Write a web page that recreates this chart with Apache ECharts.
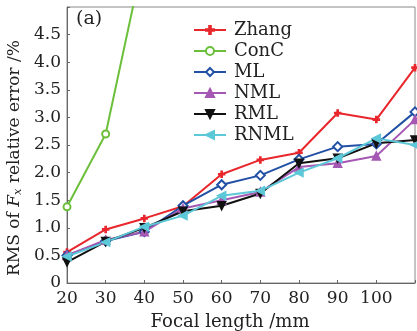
<!DOCTYPE html>
<html><head><meta charset="utf-8">
<script src="https://cdn.jsdelivr.net/npm/echarts@6/dist/echarts.min.js"></script>
<style>html,body{margin:0;padding:0;background:#fff}#c{width:417px;height:331px}</style>
</head><body><div id="c"></div>
<script>
const focal = [20, 30, 40, 50, 60, 70, 80, 90, 100, 110];
const zhang = [0.56, 0.97, 1.17, 1.39, 1.97, 2.23, 2.36, 3.08, 2.96, 3.90];
const conc  = [1.38, 2.70, 5.96, null, null, null, null, null, null, null];
const ml    = [0.50, 0.76, 0.93, 1.40, 1.78, 1.95, 2.24, 2.47, 2.52, 3.10];
const nml   = [0.50, 0.78, 0.93, 1.35, 1.50, 1.65, 2.10, 2.17, 2.30, 2.96];
const rml   = [0.38, 0.75, 1.00, 1.30, 1.40, 1.62, 2.17, 2.26, 2.53, 2.59];
const rnml  = [0.48, 0.74, 1.02, 1.22, 1.58, 1.67, 2.00, 2.26, 2.62, 2.50];
const yTicks = [0, 0.5, 1.0, 1.5, 2.0, 2.5, 3.0, 3.5, 4.0, 4.5];

const FONT = 'DejaVu Serif';
const chart = echarts.init(document.getElementById('c'));
function pts(arr){ return focal.map((f,i)=>[f, arr[i]]); }
function s(name, data, color, symbol, size){
  return {
    name, type:'line', data: pts(data), symbol, symbolSize:size,
    lineStyle:{color, width:2}, itemStyle:{color, borderColor:color, borderWidth:1.5},
    showAllSymbol:true, clip:true, connectNulls:false
  };
}
chart.setOption({
  animation:false,
  textStyle:{fontFamily:FONT},
  grid:{left:67, right:2, top:7, bottom:48, show:true, borderColor:'#888', borderWidth:1,
        containLabel:false, outerBoundsMode:'none'},
  title:{text:'(a)', left:71, top:5, textStyle:{fontFamily:FONT, fontSize:19, fontWeight:'normal', color:'#222'}},
  legend:{
    orient:'vertical', left:193, top:21, padding:0, itemWidth:32, itemHeight:10, itemGap:3,
    textStyle:{fontFamily:FONT, fontSize:18, color:'#222', padding:[0,0,0,3], lineHeight:18},
    data:['Zhang','ConC','ML','NML','RML','RNML']
  },
  graphic:[{
    type:'text', x:15, y:158, rotation:Math.PI/2,
    style:{
      text:'{n|RMS of }{f|F}{s|x}{n| relative error /%}',
      align:'center', verticalAlign:'middle', fill:'#222',
      font:'17px "DejaVu Serif"',
      rich:{
        n:{fontFamily:FONT, fontSize:17, fill:'#222'},
        f:{fontFamily:FONT, fontSize:17, fontStyle:'italic', fill:'#222'},
        s:{fontFamily:FONT, fontSize:11.5, fontStyle:'italic', fill:'#222', verticalAlign:'bottom', padding:[7,0,0,0]}
      }
    }
  }],
  xAxis:{
    type:'value', min:20, max:110, interval:10,
    name:'Focal length /mm', nameLocation:'middle', nameGap:30,
    nameTextStyle:{fontFamily:FONT, fontSize:18, color:'#222', padding:[0,22,0,0]},
    axisLine:{lineStyle:{color:'#666'}},
    axisTick:{inside:true, length:3, lineStyle:{color:'#666'}},
    splitLine:{show:false},
    axisLabel:{fontFamily:FONT, fontSize:17, color:'#222', margin:7,
      formatter:v=> v===110 ? '' : String(v)}
  },
  yAxis:{
    type:'value', min:0, max:5, interval:0.5,
    axisLine:{show:true, lineStyle:{color:'#666'}},
    axisTick:{inside:true, length:3, lineStyle:{color:'#666'}},
    splitLine:{show:false},
    axisLabel:{fontFamily:FONT, fontSize:17, color:'#222', margin:6,
      formatter:v=> yTicks.indexOf(v)<0 ? '' : (v===0 ? '0' : v.toFixed(1))}
  },
  series:[
    s('Zhang', zhang, '#e8262b', 'path://M4,0h2v4h4v2h-4v4h-2v-4h-4v-2h4z', 6),
    s('ConC', conc, '#6cbf3a', 'emptyCircle', 7),
    s('ML', ml, '#2250a5', 'emptyDiamond', 9),
    s('NML', nml, '#a558b3', 'triangle', 8),
    s('RML', rml, '#111111', 'path://M0,0L10,0L5,9Z', 8),
    s('RNML', rnml, '#5cc8d8', 'path://M0,5L9,0L9,10Z', 8)
  ]
});
</script></body></html>
